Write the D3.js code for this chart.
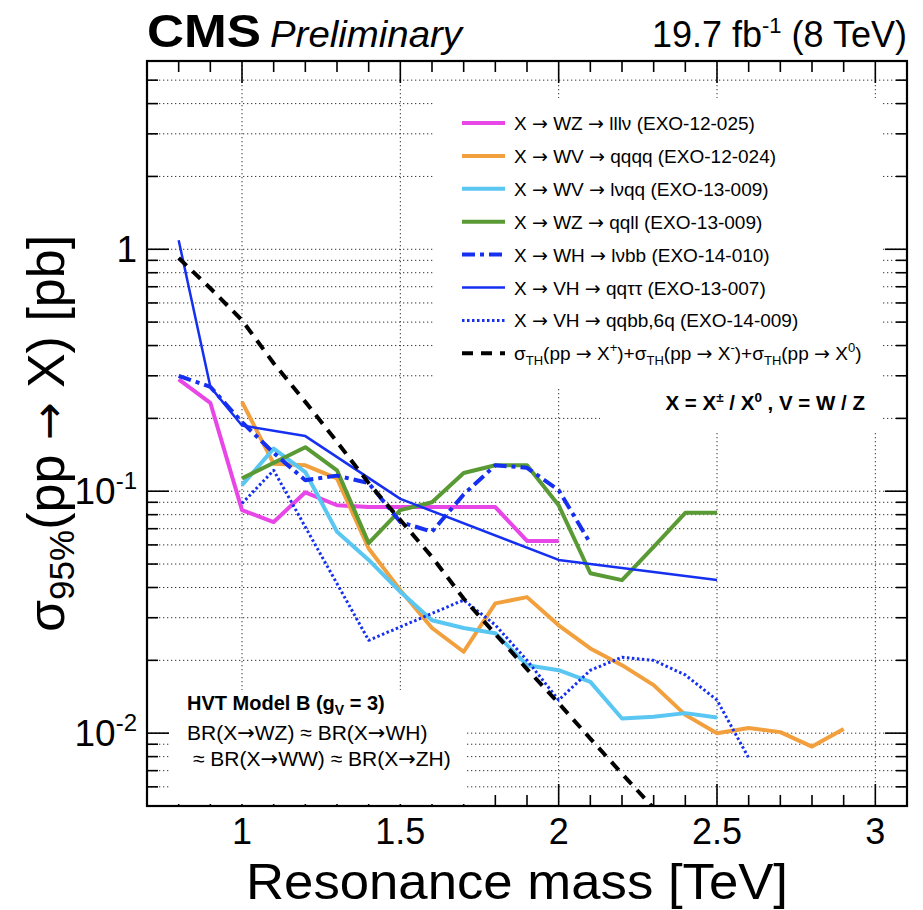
<!DOCTYPE html>
<html>
<head>
<meta charset="utf-8">
<script src="https://cdn.jsdelivr.net/npm/d3@7"></script>
<style>
  body { margin: 0; background: #fff; }
  text { font-family: "Liberation Sans", Arial, Helvetica, sans-serif; fill: #000; }
  .arr { font-family: "DejaVu Sans", sans-serif; }
</style>
</head>
<body>
<div id="chart"></div>
<script>
// resonance mass [TeV] and 95% CL limit [pb], one pair of arrays per analysis
var massLllv = [0.8, 0.9, 1.0, 1.1, 1.2, 1.3, 1.4, 1.5, 1.6, 1.7, 1.8, 1.9, 2.0];
var limLllv  = [0.29, 0.232, 0.0835, 0.0746, 0.099, 0.0875, 0.086, 0.086, 0.086, 0.086, 0.086, 0.0623, 0.0623];

var massQqqq = [1.0, 1.1, 1.2, 1.3, 1.4, 1.5, 1.6, 1.7, 1.8, 1.9, 2.0, 2.1, 2.2, 2.3, 2.4, 2.5, 2.6, 2.7, 2.8, 2.9];
var limQqqq  = [0.234, 0.13, 0.128, 0.113, 0.058, 0.039, 0.0272, 0.0217, 0.0344, 0.0365, 0.0279, 0.0224, 0.0191, 0.0158, 0.0119, 0.0100, 0.0105, 0.0101, 0.0088, 0.0104];

var massLvqq = [1.0, 1.1, 1.2, 1.3, 1.4, 1.5, 1.6, 1.7, 1.8, 1.9, 2.0, 2.1, 2.2, 2.3, 2.4, 2.5];
var limLvqq  = [0.106, 0.150, 0.12, 0.068, 0.052, 0.0384, 0.0293, 0.0272, 0.0259, 0.0191, 0.0182, 0.0163, 0.0115, 0.0117, 0.0121, 0.0116];

var massQqll = [1.0, 1.2, 1.3, 1.4, 1.5, 1.6, 1.7, 1.8, 1.9, 2.0, 2.1, 2.2, 2.3, 2.4, 2.5];
var limQqll  = [0.113, 0.152, 0.122, 0.061, 0.0835, 0.090, 0.119, 0.128, 0.128, 0.0875, 0.0458, 0.0429, 0.0589, 0.0814, 0.0814];

var massLvbb = [0.8, 0.9, 1.0, 1.1, 1.2, 1.3, 1.4, 1.5, 1.6, 1.7, 1.8, 1.9, 2.0, 2.1];
var limLvbb  = [0.30, 0.27, 0.193, 0.144, 0.111, 0.116, 0.108, 0.0746, 0.068, 0.097, 0.128, 0.125, 0.101, 0.0609];

var massQqtt = [0.8, 0.9, 1.0, 1.2, 1.5, 2.0, 2.5];
var limQqtt  = [1.09, 0.27, 0.187, 0.169, 0.093, 0.052, 0.043];

var massQqbb = [1.0, 1.1, 1.4, 1.7, 1.8, 1.9, 2.0, 2.1, 2.2, 2.3, 2.4, 2.5, 2.6];
var limQqbb  = [0.089, 0.122, 0.0242, 0.0355, 0.028, 0.020, 0.0137, 0.0182, 0.0206, 0.0200, 0.0174, 0.0137, 0.0079];

var massTh = [0.8, 0.9, 1.0, 1.1, 1.2, 1.3, 1.4, 1.5, 1.6, 1.7, 1.8, 1.9, 2.0, 2.1, 2.2, 2.3];
var xsecTh = [0.92, 0.69, 0.509, 0.338, 0.234, 0.16, 0.108, 0.076, 0.0535, 0.036, 0.0257, 0.0184, 0.0133, 0.0095, 0.0068, 0.0049];

var xMajor = [1, 1.5, 2, 2.5, 3];
var yMajor = [1, 0.1, 0.01];
var yMajorText = [["1", ""], ["10", "-1"], ["10", "-2"]];

var margin = {top: 61, right: 16, bottom: 104, left: 147},
    width = 923 - margin.left - margin.right,
    height = 910 - margin.top - margin.bottom;

var svg = d3.select("#chart")
  .append("svg")
    .attr("width", 923)
    .attr("height", 910);

var g = svg.append("g")
    .attr("transform", "translate(" + margin.left + "," + margin.top + ")");

var x = d3.scaleLinear().domain([0.7, 3.1]).range([0, width]);
var y = d3.scaleLog().domain([0.005, 6]).range([height, 0]);

var xMinor = d3.range(7, 32).map(function(d) { return d / 10; });
var yAll = y.ticks();

// put text into a <text>, arrows taken from DejaVu so they keep a real size
function withArrows(t, str) {
  str.split("\u2192").forEach(function(part, i) {
    if (i > 0) t.append("tspan").attr("class", "arr").text("\u2192");
    if (part) t.append("tspan").text(part);
  });
  return t;
}

// grid
g.append("g").selectAll("line.gy")
  .data(yAll)
  .enter().append("line")
    .attr("x1", 0).attr("x2", width)
    .attr("y1", function(d) { return y(d); })
    .attr("y2", function(d) { return y(d); })
    .attr("stroke", "#333").attr("stroke-width", 1)
    .attr("stroke-dasharray", "1.3,2.7");
g.append("g").selectAll("line.gx")
  .data(xMajor)
  .enter().append("line")
    .attr("x1", function(d) { return x(d); })
    .attr("x2", function(d) { return x(d); })
    .attr("y1", 0).attr("y2", height)
    .attr("stroke", "#333").attr("stroke-width", 1)
    .attr("stroke-dasharray", "1.3,2.7");

g.append("clipPath").attr("id", "plotclip")
  .append("rect").attr("width", width).attr("height", height);

function pairs(ms, vs) { return ms.map(function(m, i) { return [m, vs[i]]; }); }

var series = [
  {pts: pairs(massLllv, limLllv), color: "#e846e6", w: 4, dash: null,
   label: "X \u2192 WZ \u2192 lll\u03bd (EXO-12-025)"},
  {pts: pairs(massQqqq, limQqqq), color: "#f2a03e", w: 4, dash: null,
   label: "X \u2192 WV \u2192 qqqq (EXO-12-024)"},
  {pts: pairs(massLvqq, limLvqq), color: "#5ac6f2", w: 4, dash: null,
   label: "X \u2192 WV \u2192 l\u03bdqq (EXO-13-009)"},
  {pts: pairs(massQqll, limQqll), color: "#5a9a34", w: 4, dash: null,
   label: "X \u2192 WZ \u2192 qqll (EXO-13-009)"},
  {pts: pairs(massLvbb, limLvbb), color: "#1530f0", w: 4, dash: "13,5,4,5",
   label: "X \u2192 WH \u2192 l\u03bdbb (EXO-14-010)"},
  {pts: pairs(massQqtt, limQqtt), color: "#1530f0", w: 2.5, dash: null,
   label: "X \u2192 VH \u2192 qq\u03c4\u03c4 (EXO-13-007)"},
  {pts: pairs(massQqbb, limQqbb), color: "#1530f0", w: 3, dash: "2.5,2.5",
   label: "X \u2192 VH \u2192 qqbb,6q (EXO-14-009)"},
  {pts: pairs(massTh, xsecTh), color: "#000", w: 4, dash: "11,8", label: null}
];

var line = d3.line()
  .x(function(d) { return x(d[0]); })
  .y(function(d) { return y(d[1]); });

g.append("g").attr("clip-path", "url(#plotclip)")
  .selectAll("path")
  .data(series)
  .enter().append("path")
    .attr("d", function(d) { return line(d.pts); })
    .attr("fill", "none")
    .attr("stroke", function(d) { return d.color; })
    .attr("stroke-width", function(d) { return d.w; })
    .attr("stroke-dasharray", function(d) { return d.dash; })
    .attr("stroke-linejoin", "round");

// white panes (legend, note, model text)
svg.append("rect").attr("x", 433).attr("y", 98).attr("width", 449).attr("height", 289).attr("fill", "#fff");
svg.append("rect").attr("x", 600).attr("y", 385).attr("width", 282).attr("height", 48).attr("fill", "#fff");
svg.append("rect").attr("x", 170).attr("y", 690).attr("width", 295).attr("height", 114).attr("fill", "#fff");

// legend
var leg = svg.append("g");
var rowY = function(i) { return 123 + i * 32.9; };
leg.selectAll("line")
  .data(series)
  .enter().append("line")
    .attr("x1", 462).attr("x2", 505)
    .attr("y1", function(d, i) { return rowY(i); })
    .attr("y2", function(d, i) { return rowY(i); })
    .attr("stroke", function(d) { return d.color; })
    .attr("stroke-width", function(d) { return d.w; })
    .attr("stroke-dasharray", function(d) { return d.dash; });
series.filter(function(d) { return d.label; }).forEach(function(d, i) {
  withArrows(leg.append("text")
    .attr("x", 514)
    .attr("y", rowY(i) + 7)
    .style("font-size", "19px"), d.label);
});

var th = leg.append("text").attr("x", 514).attr("y", rowY(7) + 7).style("font-size", "19px");
[["+", ")+"], ["-", ")+"], ["0", ")"]].forEach(function(p) {
  th.append("tspan").text("\u03c3");
  th.append("tspan").attr("dy", 5).style("font-size", "13px").text("TH");
  th.append("tspan").attr("dy", -5).text("(pp ");
  th.append("tspan").attr("class", "arr").text("\u2192");
  th.append("tspan").text(" X");
  th.append("tspan").attr("dy", -8).style("font-size", "13px").text(p[0]);
  th.append("tspan").attr("dy", 8).text(p[1]);
});

var note = svg.append("text").attr("x", 865).attr("y", 410).attr("text-anchor", "end")
  .style("font-size", "20.5px").style("font-weight", "bold");
note.append("tspan").text("X = X");
note.append("tspan").attr("dy", -8).style("font-size", "13.5px").text("\u00b1");
note.append("tspan").attr("dy", 8).text(" / X");
note.append("tspan").attr("dy", -8).style("font-size", "13.5px").text("0");
note.append("tspan").attr("dy", 8).text(" , V = W / Z");

// model text
var hvt = svg.append("text").attr("x", 187).attr("y", 710)
  .style("font-size", "20px").style("font-weight", "bold");
hvt.append("tspan").text("HVT Model B (g");
hvt.append("tspan").attr("dy", 5).style("font-size", "14px").text("V");
hvt.append("tspan").attr("dy", -5).text(" = 3)");
withArrows(svg.append("text").attr("x", 187).attr("y", 740).style("font-size", "21px"),
  "BR(X\u2192WZ) \u2248 BR(X\u2192WH)");
withArrows(svg.append("text").attr("x", 193).attr("y", 766).style("font-size", "21px"),
  "\u2248 BR(X\u2192WW) \u2248 BR(X\u2192ZH)");

// ticks on all four sides, pointing inward
var tk = g.append("g").attr("stroke", "#000").attr("stroke-width", 1.6);
xMinor.forEach(function(d) {
  var len = xMajor.indexOf(d) >= 0 ? 22 : 11;
  tk.append("line").attr("x1", x(d)).attr("x2", x(d)).attr("y1", height).attr("y2", height - len);
  tk.append("line").attr("x1", x(d)).attr("x2", x(d)).attr("y1", 0).attr("y2", len);
});
yAll.forEach(function(d) {
  var len = yMajor.indexOf(d) >= 0 ? 22 : 11;
  tk.append("line").attr("y1", y(d)).attr("y2", y(d)).attr("x1", 0).attr("x2", len);
  tk.append("line").attr("y1", y(d)).attr("y2", y(d)).attr("x1", width).attr("x2", width - len);
});

g.append("rect")
  .attr("width", width).attr("height", height)
  .attr("fill", "none").attr("stroke", "#000").attr("stroke-width", 2.2);

// tick labels
g.append("g").selectAll("text")
  .data(xMajor)
  .enter().append("text")
    .attr("x", function(d) { return x(d); })
    .attr("y", height + 38)
    .attr("text-anchor", "middle")
    .style("font-size", "36px")
    .text(function(d) { return d; });

yMajor.forEach(function(d, i) {
  var t = g.append("text")
    .attr("x", -10).attr("y", y(d) + 13)
    .attr("text-anchor", "end")
    .style("font-size", "37px");
  t.append("tspan").text(yMajorText[i][0]);
  if (yMajorText[i][1]) {
    t.append("tspan").attr("dy", -15).style("font-size", "24px").text(yMajorText[i][1]);
  }
});

// axis titles
svg.append("text")
  .attr("x", 246).attr("y", 899)
  .attr("textLength", 542).attr("lengthAdjust", "spacingAndGlyphs")
  .style("font-size", "50px")
  .text("Resonance mass [TeV]");

var yt = svg.append("text")
  .attr("transform", "translate(64,632) rotate(-90)")
  .style("font-size", "52px");
yt.append("tspan").text("\u03c3");
yt.append("tspan").attr("dy", 10).style("font-size", "35px").text("95%");
yt.append("tspan").attr("dy", -10).text("(pp ");
yt.append("tspan").attr("class", "arr").style("font-size", "45px").text("\u2192");
yt.append("tspan").text(" X) [pb]");

// header
svg.append("text").attr("x", 147).attr("y", 47)
  .attr("textLength", 114).attr("lengthAdjust", "spacingAndGlyphs")
  .style("font-size", "46px").style("font-weight", "bold").text("CMS");
svg.append("text").attr("x", 270).attr("y", 47)
  .attr("textLength", 192).attr("lengthAdjust", "spacingAndGlyphs")
  .style("font-size", "36px").style("font-style", "italic").text("Preliminary");
var lumi = svg.append("text").attr("x", 907).attr("y", 47).attr("text-anchor", "end")
  .style("font-size", "36px");
lumi.append("tspan").text("19.7 fb");
lumi.append("tspan").attr("dy", -14).style("font-size", "22px").text("-1");
lumi.append("tspan").attr("dy", 14).text(" (8 TeV)");
</script>
</body>
</html>
